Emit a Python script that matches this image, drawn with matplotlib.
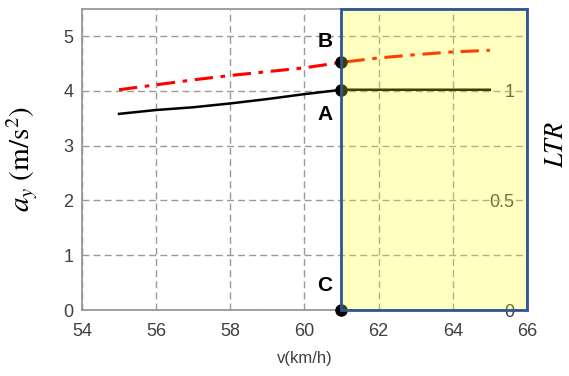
import numpy as np
import matplotlib.pyplot as plt
from matplotlib.patches import Rectangle

# data
v_red = [55, 56, 57, 58, 59, 60, 61, 62, 63, 64, 65]
ay_red = [4.02, 4.11, 4.20, 4.28, 4.35, 4.42, 4.52, 4.60, 4.66, 4.71, 4.74]
v_blk = [55, 56, 57, 58, 59, 60, 61, 62, 63, 64, 65]
ay_blk = [3.58, 3.65, 3.70, 3.77, 3.85, 3.94, 4.02, 4.02, 4.02, 4.02, 4.02]
pt_v = [61, 61, 61]
pt_ay = [4.52, 4.02, 0.0]
pt_lab = ['B', 'A', 'C']
xticks = [54, 56, 58, 60, 62, 64, 66]
yticks = [0, 1, 2, 3, 4, 5]
ltr_ticks = [0, 0.5, 1]
v_crit = 61

plt.rcParams['font.family'] = ['Liberation Sans', 'DejaVu Sans']
plt.rcParams['mathtext.fontset'] = 'stix'

fig = plt.figure(figsize=(5.69, 3.76), dpi=100)
ax = fig.add_axes([0.144, 0.1755, 0.782, 0.8015])
ax.set_xlim(54, 66)
ax.set_ylim(0, 5.5)
ax.grid(True, linestyle=(0, (5, 3)), color='#999999', linewidth=1.0)
for s in ax.spines.values():
    s.set_color('#909090')
    s.set_linewidth(1.2)
ax.set_xticks(xticks)
ax.set_yticks(yticks)
ax.tick_params(axis='y', length=0, labelsize=13, labelcolor='#404040', pad=6)
ax.tick_params(axis='x', length=0, labelsize=13, labelcolor='#404040', pad=9)

ax.plot(v_red, ay_red, color='red', linewidth=2.2, linestyle=(0, (6, 2.5, 1.5, 2.5)), zorder=3)
ax.plot(v_blk, ay_blk, color='black', linewidth=1.8, zorder=3)
ax.plot(pt_v, pt_ay, 'o', color='black', markersize=8, zorder=4, clip_on=False)
for x, y, t in zip(pt_v, pt_ay, pt_lab):
    dy = {'B': 0.38, 'A': -0.45, 'C': 0.45}[t]
    ax.text(x - 0.45, y + dy, t, fontsize=15, fontweight='bold', ha='center', va='center', zorder=5)

ax.set_xlabel('v(km/h)', fontsize=12, color='#404040', labelpad=8)
ax.set_ylabel(r'$a_y\ \mathrm{(m/s^2)}$', fontsize=21)
ax.yaxis.set_label_coords(-0.095, 0.5)

ax2 = ax.twinx()
ax2.set_ylim(0, 5.5 / 4.0)
ax2.set_yticks(ltr_ticks)
ax2.set_yticklabels(['0', '0.5', '1'])
ax2.tick_params(length=0, labelsize=13, labelcolor='#404040', pad=-9)
for lb in ax2.get_yticklabels():
    lb.set_horizontalalignment('right')
for s in ax2.spines.values():
    s.set_visible(False)
ax2.set_ylabel(r'$LTR$', fontsize=19, rotation=90, va='center')
ax2.yaxis.set_label_coords(1.066, 0.55)

# yellow overlay box
rect = Rectangle((v_crit, 0), 66 - v_crit, 5.5, facecolor=(1, 1, 0, 0.25),
                 edgecolor='#2f5597', linewidth=2, zorder=10, clip_on=False)
ax.add_patch(rect)
ax.set_zorder(2)
ax2.set_zorder(1)
ax.patch.set_visible(False)

fig.savefig('out.png', dpi=100)
